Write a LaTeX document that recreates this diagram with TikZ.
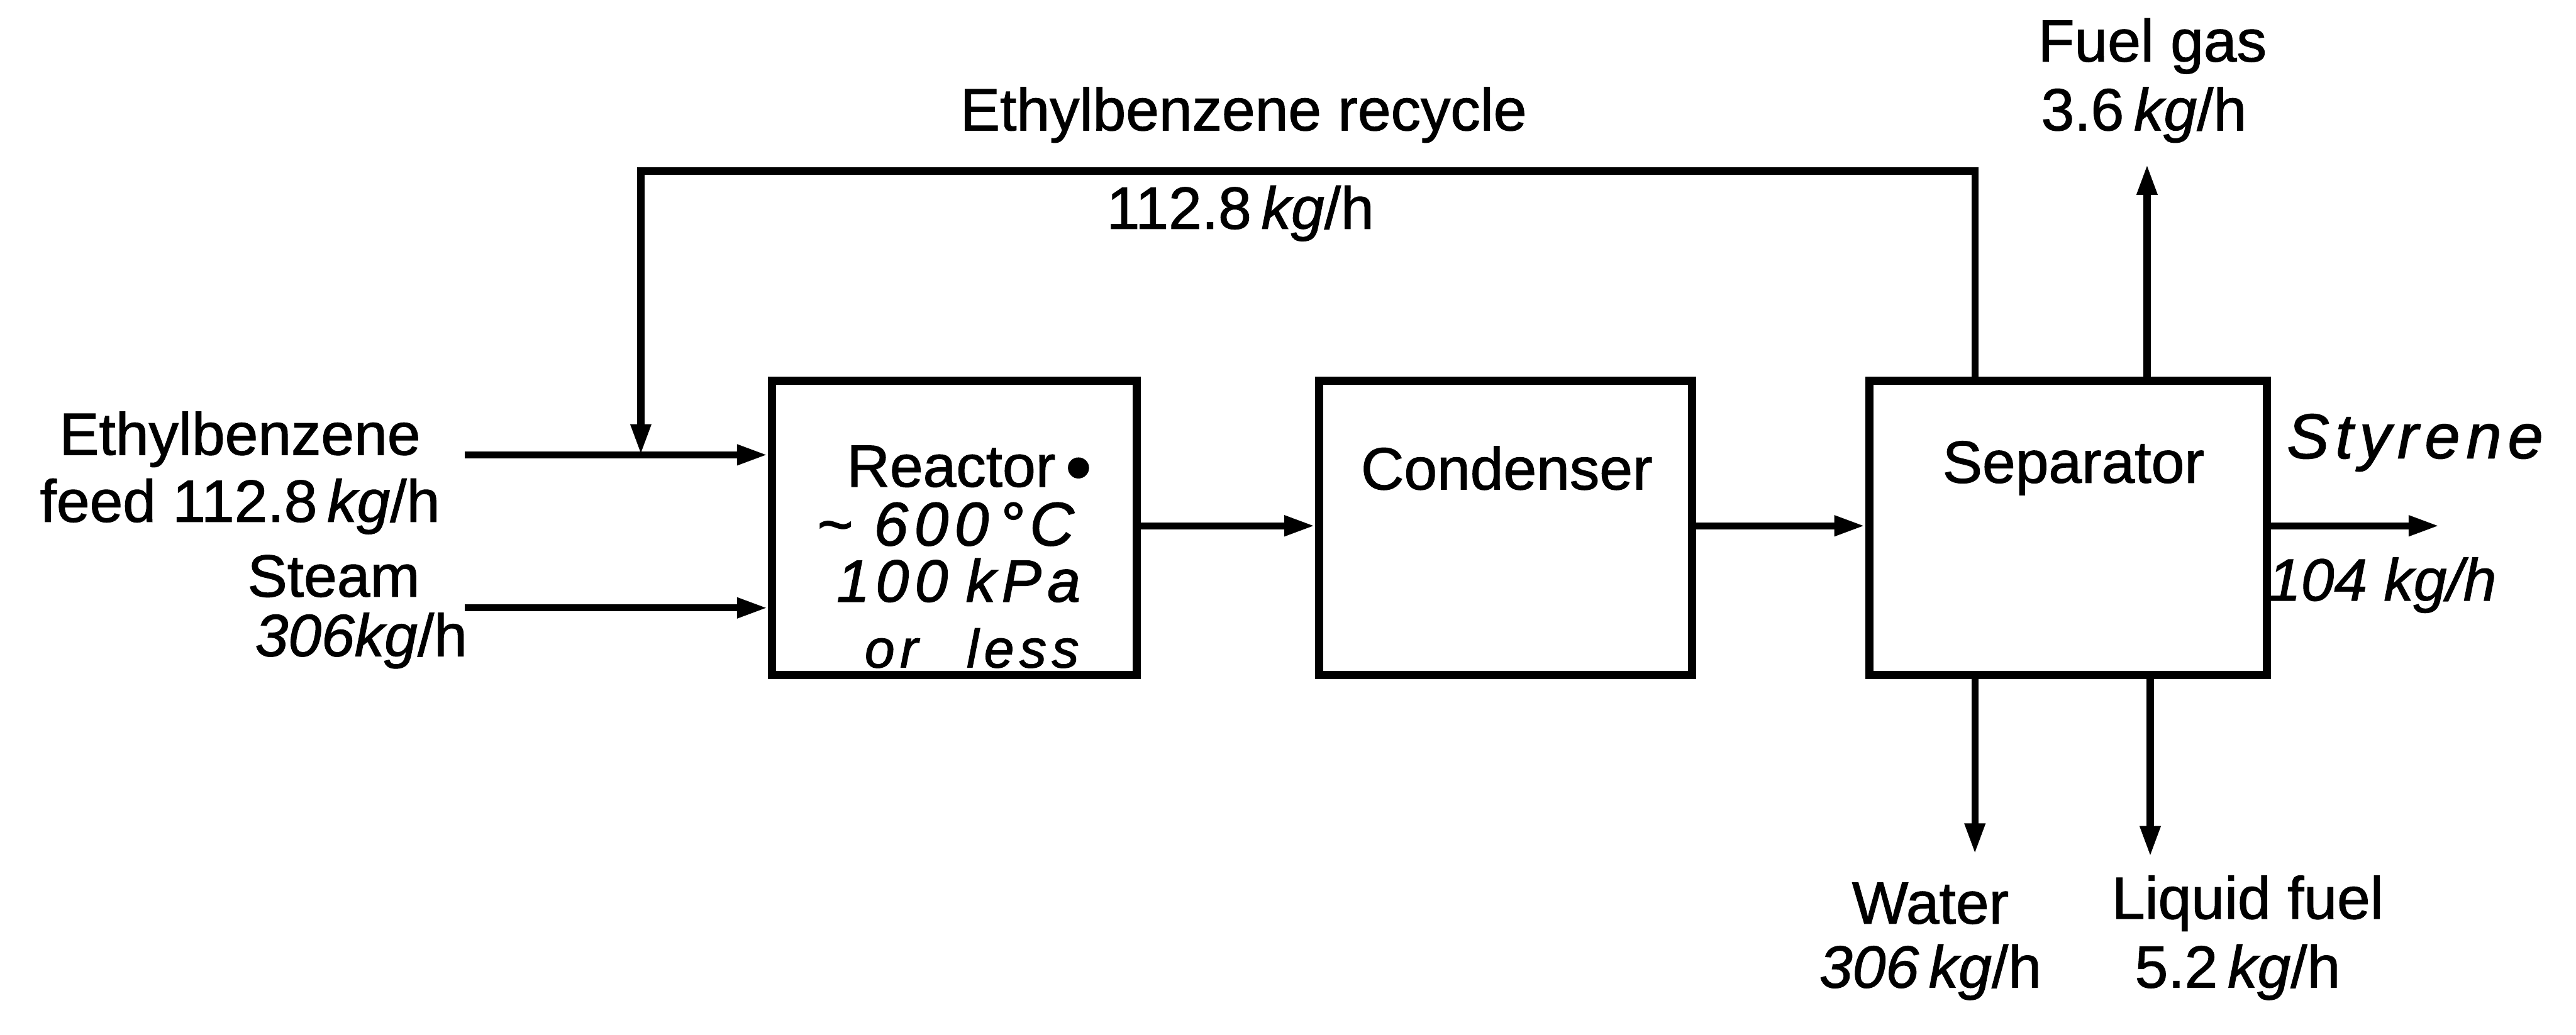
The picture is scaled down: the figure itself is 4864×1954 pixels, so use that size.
\documentclass[tikz,border=0pt]{standalone}
\usepackage{fontspec}
\setmainfont{Liberation Sans}
\newfontfamily\heavy{Liberation Sans}[FakeBold=1.2]
\newfontfamily\handw{Liberation Sans}[FakeBold=1.5,LetterSpace=10]
\usetikzlibrary{arrows.meta}
\begin{document}
\begin{tikzpicture}[x=0.01cm,y=-0.01cm,
  box/.style={draw, line width=4.4pt, inner sep=0pt, minimum height=5.55cm},
  flow/.style={line width=3.8pt, -{Triangle[length=0.58cm,width=0.36cm]}},
  lbl/.style={font=\fontsize{32}{36}\selectfont\heavy, inner sep=0pt, align=center},
  hw/.style={font=\fontsize{32}{36}\selectfont\heavy\itshape, inner sep=0pt},
  hwr/.style={font=\fontsize{32}{34}\selectfont\handw\itshape, inner sep=0pt}]
\useasboundingbox (0,0) rectangle (4864,1954);
% units
\node[box, minimum width=6.89cm] (reactor) at (1802,997) {};
\node[box, minimum width=7.04cm] (condenser) at (2843,997) {};
\node[box, minimum width=7.51cm] (separator) at (3905,997) {};
% texts in boxes
\node[lbl] (rtitle) at (1830,886) {Reactor\,\raisebox{-0.1em}{\fontsize{40}{40}\selectfont •}};
\node[hwr, font=\fontsize{33}{34}\selectfont\handw\itshape] (rtemp) at (1785,990) {\textasciitilde\hspace{0.35em}600\,°C};
\node[hwr] (rpres) at (1810,1096) {100\hspace{0.3em}kPa};
\node[hwr, font=\fontsize{29}{32}\selectfont\handw\itshape] (rless) at (1835,1224) {or\hspace{0.9em}less};
\node[lbl] (ctitle) at (2845,884) {Condenser};
\node[lbl] (stitle) at (3915,884) {Separator};
% inlet coordinates
\coordinate (feedin) at (878,859);
\coordinate (steamin) at (878,1148);
\draw[flow] (feedin) -- (feedin -| reactor.west);
\draw[flow] (steamin) -- (steamin -| reactor.west);
\draw[flow] (reactor.east |- 0,993) -- (condenser.west |- 0,993);
\draw[flow] (condenser.east |- 0,993) -- (separator.west |- 0,993);
\coordinate (styreneout) at (4606,993);
\draw[flow] (separator.east |- styreneout) -- (styreneout);
% recycle
\coordinate (rectop) at (3729,323);
\coordinate (recleft) at (1210,323);
\draw[flow] (separator.north -| rectop) -- (rectop) -- (recleft) -- (recleft |- feedin);
% fuel gas
\coordinate (fuelout) at (4054,310);
\draw[flow] (separator.north -| fuelout) -- (fuelout);
% water & liquid fuel
\coordinate (waterout) at (3729,1613);
\coordinate (liqout) at (4060,1618);
\draw[flow] (separator.south -| waterout) -- (waterout);
\draw[flow] (separator.south -| liqout) -- (liqout);
% labels
\node[lbl] (feedlbl) at (453,893) {Ethylbenzene\\feed 112.8\,\textit{kg}/h};
\node[lbl] (steamlbl) at (630,1088) {Steam};
\node[lbl] (steamrate) at (682,1210) {\textit{306kg}/h};
\node[lbl] (reclbl) at (2348,217) {Ethylbenzene recycle};
\node[lbl] (recrate) at (2342,403) {112.8\,\textit{kg}/h};
\node[lbl] (fuellbl) at (4064,87) {Fuel gas};
\node[lbl] (fuelrate) at (4048,217) {3.6\,\textit{kg}/h};
\node[hwr, font=\fontsize{34}{36}\selectfont\handw\itshape] (styrlbl) at (4560,836) {Styrene};
\node[hw] (styrrate) at (4498,1105) {104 kg/h};
\node[lbl] (waterlbl) at (3645,1706) {Water};
\node[lbl] (waterrate) at (3645,1836) {\textit{306\,kg}/h};
\node[lbl] (liqlbl) at (4244,1706) {Liquid fuel};
\node[lbl] (liqrate) at (4225,1836) {5.2\,\textit{kg}/h};
\end{tikzpicture}
\end{document}
